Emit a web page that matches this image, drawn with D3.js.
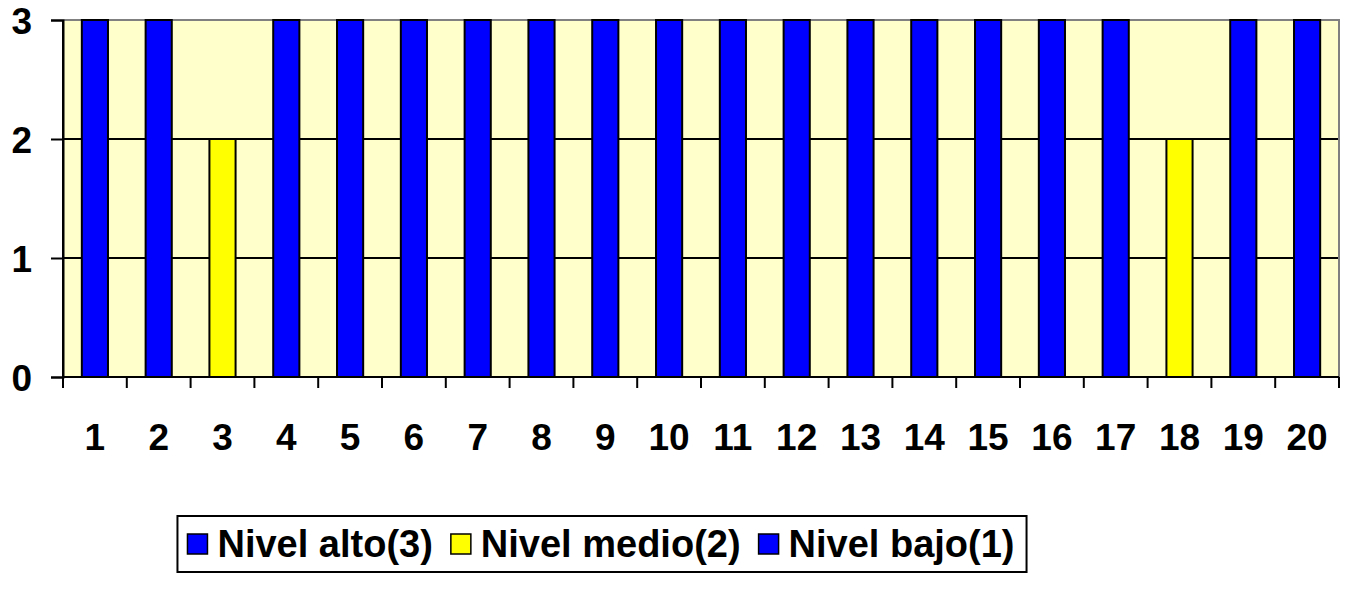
<!DOCTYPE html>
<html lang="en">
<head>
<meta charset="utf-8">
<title>Niveles</title>
<script src="https://d3js.org/d3.v7.min.js"></script>
<style>
  body { margin: 0; background: #fff; }
  text { font-family: "Liberation Sans", Arial, sans-serif; font-weight: bold; }
</style>
</head>
<body>
<script>
// data
var categories = d3.range(1, 21).map(String);
var yTicks = [0, 1, 2, 3];
var nivelAlto  = [3, 3, null, 3, 3, 3, 3, 3, 3, 3, 3, 3, 3, 3, 3, 3, 3, null, 3, 3];
var nivelMedio = [null, null, 2, null, null, null, null, null, null, null, null, null, null, null, null, null, null, 2, null, null];
var nivelBajo  = [null, null, null, null, null, null, null, null, null, null, null, null, null, null, null, null, null, null, null, null];

var series = [
  {name: "Nivel alto(3)", color: "#0000ff", values: nivelAlto},
  {name: "Nivel medio(2)", color: "#ffff00", values: nivelMedio},
  {name: "Nivel bajo(1)", color: "#0000ff", values: nivelBajo}
];

var W = 1350, H = 601;
var plot = {left: 63, right: 1339, top: 20, bottom: 377};
var fontSize = 37;

var svg = d3.select("body").append("svg")
  .attr("width", W).attr("height", H);

var x = d3.scaleBand()
  .domain(categories)
  .range([plot.left, plot.right])
  .paddingInner(0.59)
  .paddingOuter(0.295);

var xCat = d3.scaleBand()
  .domain(categories)
  .range([plot.left, plot.right]);

var y = d3.scaleLinear()
  .domain([0, 3])
  .range([plot.bottom, plot.top]);

// plot background
svg.append("rect")
  .attr("x", plot.left).attr("y", plot.top)
  .attr("width", plot.right - plot.left).attr("height", plot.bottom - plot.top)
  .attr("fill", "#ffffcc");

// gridlines
svg.selectAll(".grid")
  .data(yTicks.filter(function(d) { return d > 0 && d < 3; }))
  .enter().append("line")
  .attr("x1", plot.left).attr("x2", plot.right)
  .attr("y1", function(d) { return y(d); }).attr("y2", function(d) { return y(d); })
  .attr("stroke", "#000").attr("stroke-width", 2);

// gray border top / right
svg.append("path")
  .attr("d", "M" + plot.left + "," + plot.top + "H" + plot.right + "V" + plot.bottom)
  .attr("fill", "none").attr("stroke", "#808080").attr("stroke-width", 2);

// bars
var bars = [];
categories.forEach(function(c, i) {
  series.forEach(function(s) {
    if (s.values[i] != null) bars.push({cat: c, value: s.values[i], color: s.color});
  });
});

svg.selectAll(".bar")
  .data(bars)
  .enter().append("rect")
  .attr("class", "bar")
  .attr("x", function(d) { return x(d.cat); })
  .attr("width", x.bandwidth())
  .attr("y", function(d) { return y(d.value); })
  .attr("height", function(d) { return y(0) - y(d.value); })
  .attr("fill", function(d) { return d.color; })
  .attr("stroke", "#000")
  .attr("stroke-width", 2);

// y axis
var yAxis = svg.append("g")
  .attr("transform", "translate(" + plot.left + ",0)")
  .call(d3.axisLeft(y).tickValues(yTicks).tickFormat(d3.format("d")).tickSize(12).tickPadding(19));
yAxis.select(".domain").attr("stroke-width", 2);
yAxis.selectAll(".tick line").attr("stroke-width", 2);
yAxis.selectAll("text").attr("font-size", fontSize).attr("fill", "#000").attr("dy", "0.36em")
  .style("font-family", "'Liberation Sans', Arial, sans-serif").style("font-weight", "bold");

// x axis: ticks at category boundaries
var xAxisG = svg.append("g");
xAxisG.append("line")
  .attr("x1", plot.left).attr("x2", plot.right)
  .attr("y1", plot.bottom).attr("y2", plot.bottom)
  .attr("stroke", "#000").attr("stroke-width", 2);
var bounds = categories.map(function(c) { return xCat(c); }).concat([plot.right]);
xAxisG.selectAll(".xt")
  .data(bounds)
  .enter().append("line")
  .attr("x1", function(d) { return d; }).attr("x2", function(d) { return d; })
  .attr("y1", plot.bottom).attr("y2", plot.bottom + 11)
  .attr("stroke", "#000").attr("stroke-width", 2);
xAxisG.selectAll(".xl")
  .data(categories)
  .enter().append("text")
  .attr("x", function(d) { return xCat(d) + xCat.bandwidth() / 2; })
  .attr("y", 450)
  .attr("text-anchor", "middle")
  .attr("font-size", fontSize)
  .text(function(d) { return d; });

// left axis line on top
svg.append("line")
  .attr("x1", plot.left).attr("x2", plot.left)
  .attr("y1", plot.top).attr("y2", plot.bottom)
  .attr("stroke", "#000").attr("stroke-width", 2);

// legend
var legend = svg.append("g");
var box = legend.append("rect")
  .attr("fill", "#fff").attr("stroke", "#000").attr("stroke-width", 2);
var sq = 20, lx = 0;
series.forEach(function(s) {
  var g = legend.append("g").attr("transform", "translate(" + lx + ",0)");
  g.append("rect").attr("x", 0).attr("y", -sq / 2).attr("width", sq).attr("height", sq)
    .attr("fill", s.color).attr("stroke", "#000").attr("stroke-width", 1.5);
  var t = g.append("text").attr("x", sq + 10).attr("y", 13).attr("font-size", 38).text(s.name);
  lx += sq + 10 + t.node().getComputedTextLength() + 18;
});
var totalW = lx - 18;
var legX = 601 - totalW / 2, legY = 544;
legend.attr("transform", "translate(" + legX + "," + legY + ")");
box.attr("x", -10).attr("y", -28).attr("width", totalW + 22).attr("height", 56);
</script>
</body>
</html>
